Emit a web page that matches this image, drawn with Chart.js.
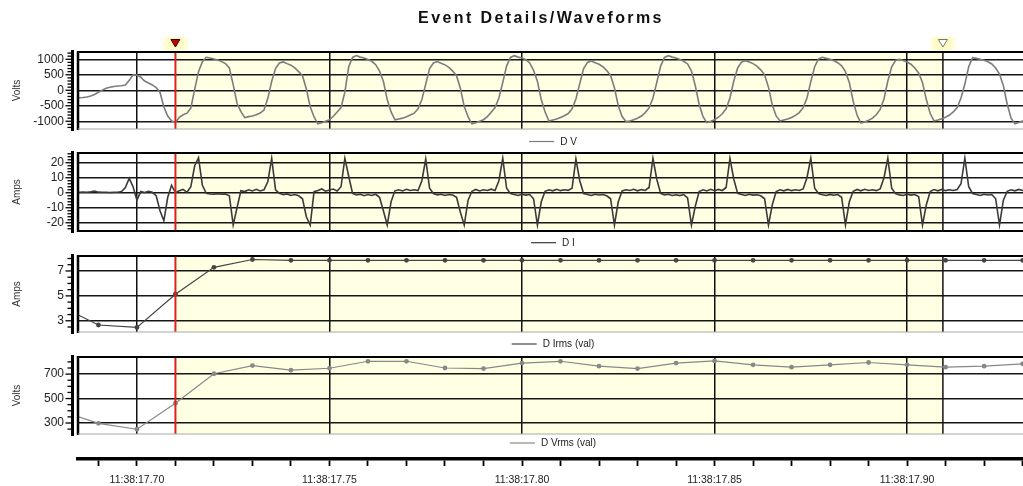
<!DOCTYPE html>
<html>
<head>
<meta charset="utf-8">
<title>Event Details/Waveforms</title>
<script src="https://cdn.jsdelivr.net/npm/chart.js@4/dist/chart.umd.min.js"></script>
<style>
  html, body { margin: 0; padding: 0; background: #fff; overflow: hidden; }
  #wrap { position: relative; width: 1023px; height: 486px; }
  #wrap canvas { position: absolute; left: 0; display: block; }
</style>
</head>
<body>
<div id="wrap">
  <canvas id="cV"    width="1023" height="150" style="top:0px"></canvas>
  <canvas id="cI"    width="1023" height="100" style="top:150px"></canvas>
  <canvas id="cIrms" width="1023" height="100" style="top:250px"></canvas>
  <canvas id="cVrms" width="1023" height="100" style="top:350px"></canvas>
  <canvas id="cAxis" width="1023" height="36"  style="top:450px"></canvas>
</div>
<script>
// ---- time base: milliseconds after 11:38:17 ----
const xMinMs = 684.7;
const xMaxMs = 930.1;
const cursorStartMs = 710;     // event trigger (red cursor)
const cursorEndMs = 909.3;     // end of the highlighted event window
const gridMs = [700, 750, 800, 850, 900];
const axisTicksMs = [690, 700, 710, 720, 730, 740, 750, 760, 770, 780, 790, 800, 810,
                     820, 830, 840, 850, 860, 870, 880, 890, 900, 910, 920, 930];
const axisLabelMs = [700, 750, 800, 850, 900];
const axisLabelText = ['11:38:17.70', '11:38:17.75', '11:38:17.80', '11:38:17.85', '11:38:17.90'];

// ---- sampled waveforms, one sample per millisecond starting at waveStartMs ----
const waveStartMs = 684;
const waveStepMs = 1;
const voltsD = [
  -250, -242, -232, -216, -185, -135, -65, 5, 65, 100,
  122, 137, 148, 172, 320, 500, 488, 420, 300, 236,
  172, 90, -70, -540, -830, -985, -1045, -870, -790, -740,
  -575, 30, 600, 925, 1065, 1040, 1012, 975, 925, 860,
  720, 180, -420, -690, -885, -850, -830, -790, -735, -640,
  -260, 290, 700, 880, 915, 860, 810, 720, 600, 470,
  40, -530, -860, -1085, -1050, -1000, -950, -840, -700, -560,
  -60, 760, 1060, 1120, 1070, 1040, 990, 935, 825, 620,
  290, -300, -700, -955, -925, -900, -855, -800, -740, -600,
  -300, 200, 700, 880, 925, 870, 820, 740, 620, 470,
  60, -520, -860, -1085, -1050, -1000, -950, -850, -710, -560,
  -250, 250, 780, 1060, 1115, 1070, 1040, 985, 880, 640,
  290, -300, -700, -990, -960, -930, -880, -820, -750, -600,
  -280, 220, 700, 900, 945, 890, 840, 760, 640, 480,
  80, -500, -850, -1010, -990, -950, -900, -830, -720, -570,
  -250, 250, 780, 1060, 1115, 1070, 1040, 990, 935, 850,
  620, 150, -450, -850, -1045, -1000, -950, -870, -760, -600,
  -250, 300, 720, 910, 955, 910, 860, 780, 660, 500,
  100, -480, -830, -990, -960, -930, -880, -810, -720, -560,
  -250, 280, 760, 1010, 1065, 1030, 1000, 950, 890, 790,
  600, 250, -350, -800, -1055, -1020, -970, -900, -790, -620,
  -280, 300, 760, 960, 1000, 960, 910, 840, 720, 560,
  250, -300, -750, -990, -960, -920, -870, -800, -700, -560,
  -250, 200, 760, 1050, 1030, 1000, 970, 920, 850, 720,
  520, 150, -450, -900, -1085, -1040, -990, -950
];
const ampsD = [
  0.3, 0.3, 0.4, 0.3, 0.6, 1.1, 0.4, 0.3, 0.3, 0.2,
  0.3, 0.3, 0.8, 3.5, 9.6, 4, -4.9, 0.8, 0.2, 1,
  0.3, -2, -12, -18.7, -3, 5, 0, 1.3, 2.2, 0.3,
  4, 18, 23.3, 5, -0.4, -0.8, -1, -0.6, -1, -0.8,
  -2, -21.5, -10, 1.3, 0.8, 2, 1.2, 2.3, 1.2, 2,
  7.5, 22.9, 2, -0.4, -1.3, -0.8, -1.8, -1.2, -2, -4,
  -16, -21.5, 0.7, 1.5, 2.5, 1, 1.8, 2.5, 1.2, 4,
  22.9, 11, -0.4, -1.5, -1, -2, -1.2, -1.8, -1, -3,
  -12, -21.5, -6, 1.3, 2, 1.2, 2.3, 1.5, 2, 1.5,
  8, 22.5, 3, -0.5, -1.4, -1, -1.8, -1.2, -1.5, -3,
  -13, -21.5, -5, 1, 2.2, 1.2, 2, 1.5, 2.4, 1.5,
  8, 23, 3, -0.6, -1.2, -1.8, -1, -1.6, -1.2, -4,
  -21.5, -6, 1, 2, 1.3, 2.3, 1.4, 2, 1.6, 3,
  22.5, 8, -0.5, -1.2, -1.8, -1, -1.5, -1.2, -2, -4,
  -21.5, -6, 1.2, 2, 1.5, 2.3, 1.3, 2.1, 1.5, 3.5,
  22.9, 9, -0.4, -1.5, -1, -1.8, -1.3, -1.9, -1.2, -3.5,
  -21.5, -9, 0.8, 2, 1.2, 2.3, 1.4, 2.2, 1.5, 3.5,
  22.9, 9, -0.4, -1.2, -1.8, -1, -1.6, -1.3, -2, -4,
  -21.5, -8, 0.8, 2, 1.3, 2.2, 1.4, 2, 1.5, 2.5,
  10, 23, 3, -0.5, -1.3, -1.8, -1.1, -1.7, -1.2, -3,
  -21.5, -6, 1, 2.2, 1.3, 2.3, 1.5, 2, 1.4, 2.5,
  10, 23, 3, -0.6, -1.4, -1.8, -1, -1.6, -1.2, -2.5,
  -21.5, -8, 0.8, 2.1, 1.3, 2.2, 1.4, 2, 1.5, 2.2,
  6, 23, 4, -0.5, -1.2, -1.8, -1, -1.5, -1.2, -4,
  -21.5, -5, 1, 2, 1.3, 2.2, 1.5, 2
];

// ---- RMS values, one per 10 ms (half-cycle window) ----
const rmsTimesMs = [680, 690, 700, 710, 720, 730, 740, 750, 760, 770, 780, 790, 800,
                    810, 820, 830, 840, 850, 860, 870, 880, 890, 900, 910, 920, 930];
const irmsD = [4.2, 2.66, 2.47, 5.13, 7.29, 7.92, 7.85, 7.85, 7.85, 7.85, 7.85, 7.85, 7.85,
               7.85, 7.85, 7.85, 7.85, 7.85, 7.85, 7.85, 7.85, 7.85, 7.85, 7.85, 7.85, 7.85];
const vrmsD = [400, 297, 249, 462, 703, 770, 732, 748, 805, 805, 750, 745, 790,
               805, 765, 745, 790, 808, 776, 757, 776, 795, 776, 757, 765, 784];

// ---- per-panel axis ticks ----
const vTicks = [-1000, -500, 0, 500, 1000];
const iTicks = [-20, -10, 0, 10, 20];
const irmsTicks = [3, 4, 5, 6, 7, 8];
const irmsLabeled = [3, 5, 7];
const vrmsTicks = [300, 400, 500, 600, 700, 800];
const vrmsLabeled = [300, 500, 700];

const FONT = '"Liberation Sans", Arial, Helvetica, sans-serif';
Chart.defaults.font.family = FONT;
Chart.defaults.animation = false;

const sampled = (vals) => vals.map((v, i) => ({ x: waveStartMs + i * waveStepMs, y: v }));
const paired = (xs, ys) => xs.map((t, i) => ({ x: t, y: ys[i] }));

// Shading, frame, tick rail, cursor and legend for one stacked panel.
const panelDecor = {
  id: 'panelDecor',
  beforeDraw(chart) {
    const { ctx, chartArea: a, scales: { x } } = chart;
    const x0 = x.getPixelForValue(cursorStartMs);
    const x1 = x.getPixelForValue(cursorEndMs);
    ctx.save();
    ctx.fillStyle = '#FFFFE3';
    ctx.fillRect(x0, a.top, x1 - x0, a.bottom - a.top);
    ctx.restore();
  },
  beforeDatasetsDraw(chart) {
    const { ctx, chartArea: a, scales: { x } } = chart;
    const x1 = x.getPixelForValue(cursorEndMs);
    ctx.save();
    ctx.strokeStyle = '#111';
    ctx.lineWidth = 1.5;
    ctx.beginPath();
    ctx.moveTo(x1, a.top);
    ctx.lineTo(x1, a.bottom);
    ctx.stroke();
    ctx.restore();
  },
  afterDatasetsDraw(chart, args, o) {
    const { ctx, chartArea: a, scales: { x, y } } = chart;
    ctx.save();
    // trigger cursor
    const xc = x.getPixelForValue(cursorStartMs);
    ctx.strokeStyle = '#E0201C';
    ctx.lineWidth = 2;
    ctx.beginPath();
    ctx.moveTo(xc, a.top);
    ctx.lineTo(xc, a.bottom);
    ctx.stroke();
    // frame
    ctx.strokeStyle = '#000';
    ctx.lineWidth = 2;
    ctx.beginPath();
    ctx.moveTo(a.left - 1, a.top);
    ctx.lineTo(a.right, a.top);
    ctx.stroke();
    ctx.lineWidth = 2.5;
    ctx.beginPath();
    ctx.moveTo(a.left, a.top - 1);
    ctx.lineTo(a.left, a.bottom + 1);
    ctx.stroke();
    ctx.strokeStyle = o.bottomColor;
    ctx.lineWidth = o.bottomWidth;
    ctx.beginPath();
    ctx.moveTo(a.left, a.bottom);
    ctx.lineTo(a.right, a.bottom);
    ctx.stroke();
    // value rail with fine ticks
    const rx = a.left - 5.5;
    ctx.strokeStyle = '#000';
    ctx.lineWidth = 3;
    ctx.beginPath();
    ctx.moveTo(rx, a.top - 2);
    ctx.lineTo(rx, a.bottom + 2);
    ctx.stroke();
    ctx.lineWidth = 1.3;
    const first = Math.ceil((y.min - 1e-9) / o.railStep);
    for (let k = first; k * o.railStep <= y.max + 1e-9; k++) {
      const v = k * o.railStep;
      const py = y.getPixelForValue(v);
      const major = o.railMajor.some(m => Math.abs(m - v) < 1e-9);
      ctx.beginPath();
      ctx.moveTo(rx - (major ? 7 : 5), py);
      ctx.lineTo(rx, py);
      ctx.stroke();
    }
    // legend entry
    const ds = chart.data.datasets[0];
    ctx.font = '10px ' + FONT;
    const tw = ctx.measureText(ds.label).width;
    const total = 25 + 6 + tw;
    const lx = 553 - total / 2;
    const ly = a.bottom + o.legendGap;
    ctx.strokeStyle = ds.borderColor;
    ctx.lineWidth = 1.2;
    ctx.beginPath();
    ctx.moveTo(lx, ly);
    ctx.lineTo(lx + 25, ly);
    ctx.stroke();
    ctx.fillStyle = '#222';
    ctx.textBaseline = 'middle';
    ctx.textAlign = 'left';
    ctx.fillText(ds.label, lx + 31, ly + 0.5);
    ctx.restore();
  }
};

// Chart heading and the two event markers above the top panel.
const eventHeader = {
  id: 'eventHeader',
  afterDraw(chart) {
    const { ctx, scales: { x } } = chart;
    ctx.save();
    ctx.font = 'bold 16px ' + FONT;
    ctx.fillStyle = '#111';
    ctx.textAlign = 'left';
    ctx.textBaseline = 'middle';
    if ('letterSpacing' in ctx) ctx.letterSpacing = '2.4px';
    const heading = 'Event Details/Waveforms';
    const hw = ctx.measureText(heading).width;
    ctx.fillText(heading, 541 - hw / 2, 19);
    if ('letterSpacing' in ctx) ctx.letterSpacing = '0px';
    const marker = (t, filled) => {
      const cx = x.getPixelForValue(t);
      const g = ctx.createLinearGradient(cx - 15, 0, cx + 15, 0);
      g.addColorStop(0, 'rgba(255,255,200,0)');
      g.addColorStop(0.25, 'rgba(255,250,190,0.9)');
      g.addColorStop(0.75, 'rgba(255,250,190,0.9)');
      g.addColorStop(1, 'rgba(255,255,200,0)');
      ctx.fillStyle = g;
      ctx.fillRect(cx - 15, 37, 30, 13);
      ctx.beginPath();
      ctx.moveTo(cx - 4.5, 39.5);
      ctx.lineTo(cx + 4.5, 39.5);
      ctx.lineTo(cx, 47);
      ctx.closePath();
      ctx.lineWidth = 1;
      if (filled) {
        ctx.fillStyle = '#C80000';
        ctx.fill();
        ctx.strokeStyle = '#300';
      } else {
        ctx.fillStyle = '#fff';
        ctx.fill();
        ctx.strokeStyle = '#777';
      }
      ctx.stroke();
    };
    marker(cursorStartMs, true);
    marker(cursorEndMs, false);
    ctx.restore();
  }
};

function panelX() {
  return {
    type: 'linear', min: xMinMs, max: xMaxMs,
    afterBuildTicks: s => { s.ticks = gridMs.map(v => ({ value: v })); },
    afterFit: s => { s.height = 0; s.paddingLeft = 0; s.paddingRight = 0; },
    ticks: { display: false },
    grid: { color: '#111', lineWidth: 1.5, drawTicks: false },
    border: { display: false }
  };
}

function panelY(min, max, ticks, labeled, title) {
  return {
    type: 'linear', min, max,
    afterFit: s => { s.width = 78; s.paddingTop = 0; s.paddingBottom = 0; },
    afterBuildTicks: s => { s.ticks = ticks.map(v => ({ value: v })); },
    ticks: {
      padding: 14, color: '#222', font: { size: 12 },
      callback: v => (labeled.includes(v) ? String(v) : '')
    },
    grid: { color: '#161616', lineWidth: 1.5, drawTicks: false },
    border: { display: false },
    title: { display: true, text: title, color: '#333', font: { size: 10 }, padding: { top: 11, bottom: 0 } }
  };
}

function makePanel(id, pad, dataset, yScale, decor, extraPlugins) {
  return new Chart(document.getElementById(id), {
    type: 'line',
    data: { datasets: [dataset] },
    options: {
      responsive: false,
      animation: false,
      layout: { autoPadding: false, padding: { left: 0, right: 0, top: pad[0], bottom: pad[1] } },
      plugins: { legend: { display: false }, tooltip: { enabled: false }, panelDecor: decor },
      scales: { x: panelX(), y: yScale }
    },
    plugins: [panelDecor].concat(extraPlugins || [])
  });
}

makePanel('cV', [52, 21], {
  label: 'D V', data: sampled(voltsD), borderColor: '#7c7c7c', borderWidth: 1.6,
  pointRadius: 0, tension: 0
}, panelY(-1250, 1235, vTicks, vTicks, 'Volts'),
  { railStep: 100, railMajor: vTicks, legendGap: 12.5, bottomColor: '#a8a8a8', bottomWidth: 1 },
  [eventHeader]);

makePanel('cI', [3, 19], {
  label: 'D I', data: sampled(ampsD), borderColor: '#3a3a3a', borderWidth: 1.6,
  pointRadius: 0, tension: 0
}, panelY(-25.5, 26.5, iTicks, iTicks, 'Amps'),
  { railStep: 2, railMajor: iTicks, legendGap: 11.7, bottomColor: '#000', bottomWidth: 2 });

makePanel('cIrms', [6, 18], {
  label: 'D Irms (val)', data: paired(rmsTimesMs, irmsD), borderColor: '#444', borderWidth: 1.2,
  pointRadius: 2.4, pointBackgroundColor: '#444', pointBorderWidth: 0, tension: 0
}, panelY(2.1, 8.2, irmsTicks, irmsLabeled, 'Amps'),
  { railStep: 0.5, railMajor: irmsLabeled, legendGap: 12, bottomColor: '#a8a8a8', bottomWidth: 1 });

makePanel('cVrms', [7, 16], {
  label: 'D Vrms (val)', data: paired(rmsTimesMs, vrmsD), borderColor: '#888', borderWidth: 1.2,
  pointRadius: 2.4, pointBackgroundColor: '#888', pointBorderWidth: 0, tension: 0
}, panelY(210, 840, vrmsTicks, vrmsLabeled, 'Volts'),
  { railStep: 50, railMajor: vrmsLabeled, legendGap: 9, bottomColor: '#a8a8a8', bottomWidth: 1 });

// shared time axis
new Chart(document.getElementById('cAxis'), {
  type: 'line',
  data: { datasets: [] },
  options: {
    responsive: false,
    animation: false,
    layout: { padding: { left: 78, right: 0, top: 0, bottom: 0 } },
    plugins: { legend: { display: false }, tooltip: { enabled: false } },
    scales: {
      x: {
        type: 'linear', position: 'bottom', min: xMinMs, max: xMaxMs,
        afterBuildTicks: s => { s.ticks = axisTicksMs.map(v => ({ value: v })); },
        afterFit: s => { s.height = 27; s.paddingLeft = 0; s.paddingRight = 0; },
        ticks: {
          autoSkip: false, maxRotation: 0, color: '#222', font: { size: 10.5 }, padding: 8,
          callback: v => { const k = axisLabelMs.indexOf(v); return k >= 0 ? axisLabelText[k] : ''; }
        },
        grid: { drawOnChartArea: false, drawTicks: true, tickLength: 7, tickWidth: 1.8, tickColor: '#000' },
        border: { display: true, width: 3.5, color: '#000' }
      },
      y: { display: false, min: 0, max: 1 }
    }
  }
});
</script>
</body>
</html>
